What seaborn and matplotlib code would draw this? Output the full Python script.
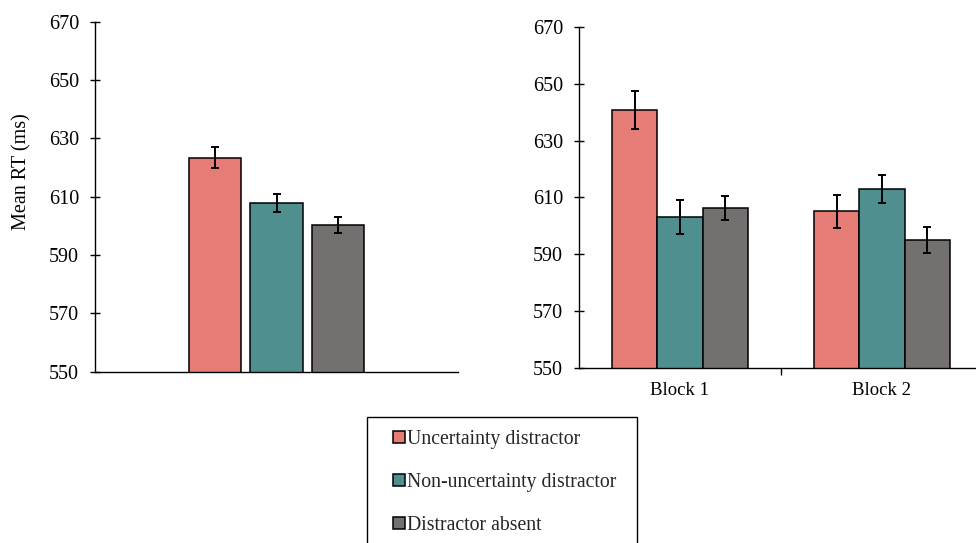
import numpy as np
import pandas as pd
import matplotlib
matplotlib.use('Agg')
import matplotlib.pyplot as plt
from matplotlib.patches import Rectangle
import seaborn as sns

# ---- data ----
conditions = ['Uncertainty distractor', 'Non-uncertainty distractor', 'Distractor absent']
overall_rt = [623.4, 607.8, 600.3]
overall_err = [3.6, 3.2, 2.8]

blocks = ['Block 1', 'Block 2']
block1_rt = [640.8, 603.2, 606.4]
block1_err = [6.7, 5.9, 4.3]
block2_rt = [605.1, 612.9, 594.9]
block2_err = [5.8, 4.85, 4.55]

yticks = [550, 570, 590, 610, 630, 650, 670]
colors = ['#E57C76', '#4F8F90', '#757070']

sns.set_theme(style='white')
plt.rcParams['font.family'] = ['Liberation Serif', 'DejaVu Serif']

df_left = pd.DataFrame({'group': ['All'] * 3, 'condition': conditions,
                        'rt': overall_rt, 'err': overall_err})
df_right = pd.DataFrame({
    'group': [blocks[0]] * 3 + [blocks[1]] * 3,
    'condition': conditions * 2,
    'rt': block1_rt + block2_rt,
    'err': block1_err + block2_err,
})

fig = plt.figure(figsize=(9.76, 5.43), dpi=100)
ax1 = fig.add_axes([95 / 976, 1 - 371.7 / 543, (458 - 95) / 976, (371.7 - 21.7) / 543])
ax2 = fig.add_axes([579 / 976, 1 - 368 / 543, (976 - 579) / 976, (368 - 27) / 543])


def draw(ax, df, width, gap):
    sns.barplot(data=df, x='group', y='rt', hue='condition', hue_order=conditions,
                palette=colors, width=width, gap=gap, errorbar=None,
                edgecolor='black', linewidth=1.1, saturation=1, ax=ax)
    # error bars at the bar centres
    for i, cond in enumerate(conditions):
        sub = df[df['condition'] == cond]
        for bar, (_, row) in zip(ax.containers[i], sub.iterrows()):
            ax.errorbar(bar.get_x() + bar.get_width() / 2, row['rt'], yerr=row['err'],
                        fmt='none', ecolor='black', elinewidth=1.4, capsize=3.2,
                        capthick=1.4, zorder=5)
    ax.set_ylim(550, 670)
    ax.set_yticks(yticks)
    ax.tick_params(axis='y', direction='inout', length=7, width=1.0, labelsize=14.5,
                   pad=8, colors='black', left=True)
    for s in ['top', 'right']:
        ax.spines[s].set_visible(False)
    for s in ['left', 'bottom']:
        ax.spines[s].set_color('black')
        ax.spines[s].set_linewidth(1.0)
    ax.set_xlabel('')
    ax.set_ylabel('')
    leg = ax.get_legend()
    if leg is not None:
        leg.remove()


draw(ax1, df_left, 0.51, 0.155)
ax1.set_xlim(-0.5, 0.5)
ax1.set_xticks([])
ax1.set_ylabel('Mean RT (ms)', fontsize=14.5, color='black')
ax1.yaxis.set_label_coords(-0.176, 0.573)

draw(ax2, df_right, 0.673, 0)
ax2.set_xlim(-0.5, (976 - 579) / 202 - 0.5)
ax2.set_xticks([0, 1])
ax2.set_xticklabels(blocks)
ax2.tick_params(axis='x', length=0, labelsize=13.5, pad=10, colors='black')
ax2.set_xticks([0.5], minor=True)
ax2.tick_params(axis='x', which='minor', direction='out', length=5, width=1.0,
                bottom=True, color='black')

# legend box (runs off the bottom of the figure like the original)
fig.patches.append(Rectangle((367 / 976, -0.05), (637 - 367) / 976, 0.05 + 1 - 417 / 543,
                             transform=fig.transFigure, fill=False,
                             edgecolor='black', linewidth=1.0))
handles = [ax2.containers[i].patches[0] for i in range(3)]
fig.legend(handles, conditions, loc='upper left',
           bbox_to_anchor=(393 / 976, 1 - 430 / 543), bbox_transform=fig.transFigure,
           frameon=False, fontsize=14.2, handlelength=0.6, handleheight=0.6,
           handletextpad=0.12, labelspacing=1.22, borderpad=0, borderaxespad=0)

fig.savefig('out.png', dpi=100)
